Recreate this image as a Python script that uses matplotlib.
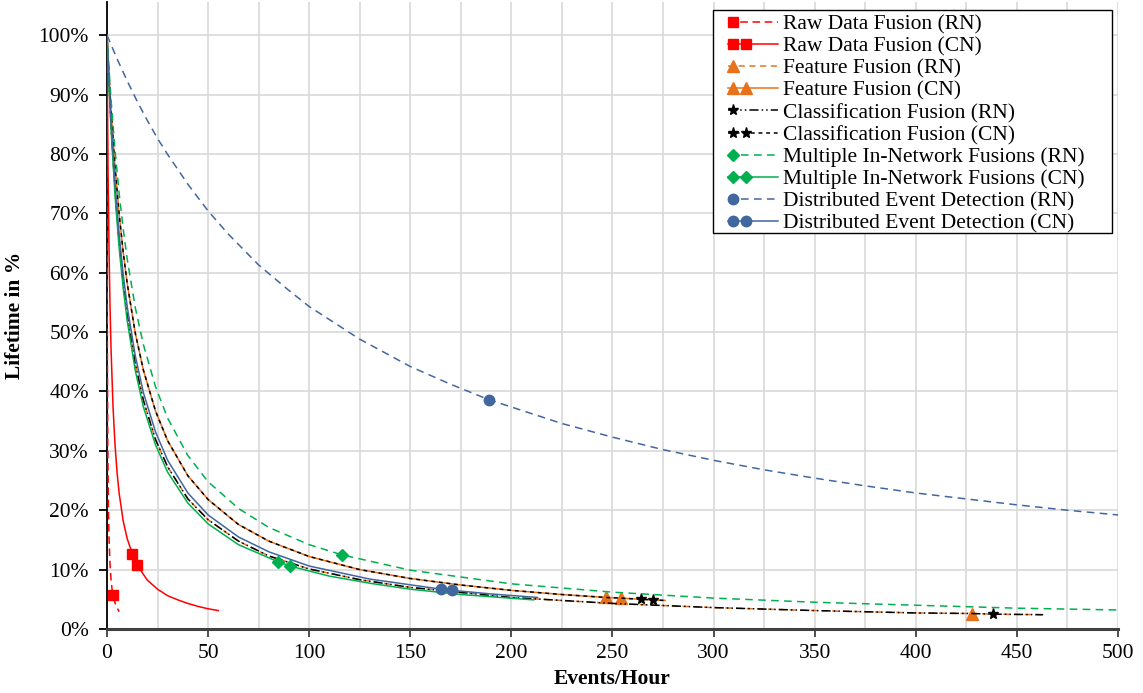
# -*- coding: utf-8 -*-
import matplotlib
matplotlib.use('Agg')
import matplotlib.pyplot as plt
from matplotlib.lines import Line2D
from matplotlib.patches import Rectangle
from matplotlib.legend_handler import HandlerLine2D
from matplotlib.ticker import PercentFormatter, MultipleLocator

# Data, lifetime in %
raw_rn_x = [0, 0.2, 0.4, 0.7, 1, 1.5, 2, 2.8, 3.5, 4.5, 6]
raw_rn_y = [100, 47.6, 31.3, 20.6, 15.4, 10.8, 8.3, 5.8, 4.9, 3.9, 2.9]
raw_rn_mark = [2.8]

raw_cn_x = [0, 0.5, 1, 1.5, 2, 3, 4, 5, 6, 8, 10, 12.6, 15, 20, 25, 30,
            35, 40, 45, 50, 55]
raw_cn_y = [100, 78.1, 64.1, 54.3, 47.2, 37.3, 30.9, 26.3, 22.9, 18.2,
            15.2, 12.6, 10.7, 8.2, 6.7, 5.6, 4.9, 4.3, 3.8, 3.4, 3.1]
raw_cn_mark = [12.6, 15]

# upper curve: Feature Fusion (CN) and Classification Fusion (CN)
upper_x = [0, 1, 2, 4, 6, 8, 10, 14, 18, 24, 30, 40, 50, 65, 80, 100, 125,
           150, 175, 200, 225, 247, 254, 264, 270, 276]
upper_y = [100, 93.3, 87.4, 77.7, 69.9, 63.5, 58.2, 49.8, 43.6, 36.7, 31.7,
           25.8, 21.8, 17.6, 14.8, 12.2, 10.0, 8.5, 7.4, 6.5, 5.8, 5.3, 5.2,
           5.0, 4.9, 4.8]
feat_cn_mark = [247, 254]
cls_cn_mark = [264, 270]

# lower curve: Feature Fusion (RN) and Classification Fusion (RN)
lower_x = [0, 1, 2, 4, 6, 8, 10, 14, 18, 24, 30, 40, 50, 65, 80, 100, 125,
           150, 200, 250, 300, 350, 400, 428, 438, 463]
lower_y = [100, 91.8, 84.9, 73.8, 65.2, 58.4, 52.9, 44.6, 38.5, 31.9, 27.3,
           21.9, 18.4, 14.8, 12.3, 10.1, 8.3, 7.0, 5.3, 4.3, 3.6, 3.1, 2.7,
           2.6, 2.5, 2.4]
feat_rn_mark = [428]
cls_rn_mark = [438]

minf_rn_x = [0, 1, 2, 4, 6, 8, 10, 14, 18, 24, 30, 40, 50, 65, 80, 100, 116,
             150, 200, 250, 300, 350, 400, 450, 500]
minf_rn_y = [100, 94.3, 89.2, 80.5, 73.4, 67.4, 62.3, 54.1, 47.9, 40.8, 35.5,
             29.2, 24.8, 20.3, 17.1, 14.2, 12.5, 9.9, 7.6, 6.2, 5.2, 4.5, 4.0,
             3.5, 3.2]
minf_rn_mark = [116]

minf_cn_x = [0, 1, 2, 4, 6, 8, 10, 14, 18, 24, 30, 40, 50, 65, 84.7, 90.4,
             110, 130, 150, 175, 211]
minf_cn_y = [100, 91.5, 84.3, 72.9, 64.2, 57.4, 51.9, 43.5, 37.4, 31.0, 26.4,
             21.2, 17.7, 14.2, 11.3, 10.6, 8.9, 7.7, 6.7, 5.8, 4.9]
minf_cn_mark = [84.7, 90.4]

ded_rn_x = [0, 5, 10, 15, 20, 25, 30, 40, 50, 60, 75, 90, 100, 125, 150,
            170, 189, 225, 250, 275, 300, 325, 350, 375, 400, 425, 450, 475,
            500]
ded_rn_y = [100, 96.0, 92.3, 88.8, 85.6, 82.6, 79.9, 74.9, 70.4, 66.5, 61.3,
            57.0, 54.3, 48.8, 44.2, 41.2, 38.6, 34.6, 32.3, 30.2, 28.4, 26.8,
            25.4, 24.1, 22.9, 21.9, 20.9, 20.0, 19.2]
ded_rn_mark = [189]

ded_cn_x = [0, 1, 2, 4, 6, 8, 10, 14, 18, 24, 30, 40, 50, 65, 80, 100, 130,
            165.3, 170.7, 190, 213]
ded_cn_y = [100, 92.3, 85.6, 74.9, 66.5, 59.8, 54.3, 46.0, 39.8, 33.2, 28.4,
            22.9, 19.2, 15.5, 13.0, 10.6, 8.4, 6.7, 6.5, 5.9, 5.3]
ded_cn_mark = [165.3, 170.7]

RED = '#FF0000'
ORANGE = '#E8711C'
GREEN = '#00B050'
BLUE = '#41679F'
FONT = 'Liberation Serif'
FS = 15.5
W, H = 1143.0, 693.0


class LeftMarkerHandler(HandlerLine2D):
    '''Line across the handle with one or two markers on the left'''

    def __init__(self, nmark=1, **kw):
        HandlerLine2D.__init__(self, **kw)
        self.nmark = nmark

    def create_artists(self, legend, orig_handle, xdescent, ydescent,
                       width, height, fontsize, trans):
        y = height / 2.0 - ydescent
        x0 = -xdescent
        line = Line2D([x0, x0 + width], [y, y])
        self.update_prop(line, orig_handle, legend)
        line.set_marker('None')
        xm = [x0 + 0.1 * width, x0 + 0.36 * width][:self.nmark]
        marks = Line2D(xm, [y] * len(xm))
        self.update_prop(marks, orig_handle, legend)
        marks.set_linestyle('None')
        line.set_transform(trans)
        marks.set_transform(trans)
        return [line, marks]


def plotSeries(ax, xs, ys, marks, color, dashes, marker, ms, label, z):
    every = [xs.index(m) for m in marks]
    line, = ax.plot(xs, ys, color=color, lw=1.1, marker=marker,
                    markersize=ms, markevery=every, markerfacecolor=color,
                    markeredgecolor=color, label=label, zorder=z)
    if dashes is not None:
        line.set_dashes(dashes)
    return line


def main():
    plt.rcParams['font.family'] = FONT
    fig = plt.figure(figsize=(11.43, 6.93), dpi=100)
    ax = fig.add_axes([0.0936, 0.0924, 0.8845, 0.904])

    handles = []
    handles.append(plotSeries(ax, raw_rn_x, raw_rn_y, raw_rn_mark, RED,
                              (5, 3), 's', 7, 'Raw Data Fusion (RN)', 3))
    handles.append(plotSeries(ax, raw_cn_x, raw_cn_y, raw_cn_mark, RED,
                              None, 's', 7, 'Raw Data Fusion (CN)', 3))
    handles.append(plotSeries(ax, lower_x, lower_y, feat_rn_mark, ORANGE,
                              (4, 3), '^', 8, 'Feature Fusion (RN)', 3))
    handles.append(plotSeries(ax, upper_x, upper_y, feat_cn_mark, ORANGE,
                              None, '^', 8, 'Feature Fusion (CN)', 3))
    handles.append(plotSeries(ax, lower_x, lower_y, cls_rn_mark, 'black',
                              (6, 2, 1, 2, 1, 2), '*', 8,
                              'Classification Fusion (RN)', 4))
    handles.append(plotSeries(ax, upper_x, upper_y, cls_cn_mark, 'black',
                              (2.5, 2.5), '*', 8,
                              'Classification Fusion (CN)', 4))
    handles.append(plotSeries(ax, minf_rn_x, minf_rn_y, minf_rn_mark, GREEN,
                              (5, 3.5), 'D', 6.5,
                              'Multiple In-Network Fusions (RN)', 5))
    handles.append(plotSeries(ax, minf_cn_x, minf_cn_y, minf_cn_mark, GREEN,
                              None, 'D', 6.5,
                              'Multiple In-Network Fusions (CN)', 5))
    handles.append(plotSeries(ax, ded_rn_x, ded_rn_y, ded_rn_mark, BLUE,
                              (5, 3.5), 'o', 7.5,
                              'Distributed Event Detection (RN)', 6))
    handles.append(plotSeries(ax, ded_cn_x, ded_cn_y, ded_cn_mark, BLUE,
                              None, 'o', 7.5,
                              'Distributed Event Detection (CN)', 6))

    ax.set_xlim(0, 500)
    ax.set_ylim(0, 105.5)
    ax.xaxis.set_major_locator(MultipleLocator(50))
    ax.xaxis.set_minor_locator(MultipleLocator(25))
    ax.set_yticks(range(0, 101, 10))
    ax.yaxis.set_major_formatter(PercentFormatter(decimals=0))
    ax.grid(True, which='both', axis='x', color='#D9D9D9', lw=1.2)
    ax.grid(True, which='major', axis='y', color='#D9D9D9', lw=1.2)
    ax.set_axisbelow(True)

    for side in ('top', 'right'):
        ax.spines[side].set_visible(False)
    ax.spines['left'].set_color('black')
    ax.spines['left'].set_linewidth(1.3)
    ax.spines['bottom'].set_color('#404040')
    ax.spines['bottom'].set_linewidth(2.2)
    ax.tick_params(axis='x', which='major', length=6, width=1.3,
                   color='#404040', labelsize=FS, pad=5)
    ax.tick_params(axis='x', which='minor', length=0)
    ax.tick_params(axis='y', length=6, width=1.3, labelsize=FS, pad=7)

    ax.set_xlabel('Events/Hour', fontsize=FS, fontweight='bold', labelpad=4)
    ax.set_ylabel('Lifetime in %', fontsize=FS, fontweight='bold',
                  labelpad=10)

    # legend frame drawn separately to get the wide padding of the original
    fig.patches.append(Rectangle((713 / W, 1 - 233 / H), 399 / W, 223 / H,
                                 transform=fig.transFigure, fill=True,
                                 facecolor='white', edgecolor='black',
                                 lw=1.0, zorder=8))

    hmap = {}
    for i, h in enumerate(handles):
        hmap[h] = LeftMarkerHandler(nmark=1 if i % 2 == 0 else 2)
    leg = fig.legend(handles=handles, handler_map=hmap, loc='upper left',
                     bbox_to_anchor=(728 / W, 1 - 14.5 / H),
                     bbox_transform=fig.transFigure, fontsize=FS,
                     frameon=False, borderaxespad=0, borderpad=0,
                     labelspacing=0.095, handlelength=2.3,
                     handletextpad=0.25)
    leg.set_zorder(9)

    fig.savefig('out.png', dpi=100)


if __name__ == '__main__':
    main()
